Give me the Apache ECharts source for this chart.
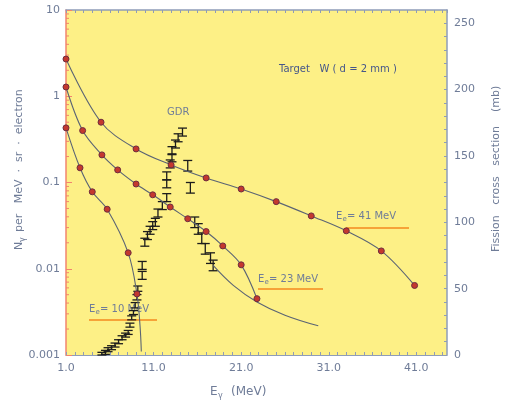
<!DOCTYPE html>
<html>
<head>
<meta charset="utf-8">
<script src="https://cdn.jsdelivr.net/npm/echarts@6/dist/echarts.min.js"></script>
<style>
html,body{margin:0;padding:0;background:#fff;}
#c{width:517px;height:406px;}
</style>
</head>
<body>
<div id="c"></div>
<script>
// ---- data ----
// Bremsstrahlung spectra, left log axis (N per MeV · sr · electron)
const e41 = [1, 5, 9, 13, 17, 21, 25, 29, 33, 37, 40.8];
const n41 = [2.7, 0.50, 0.245, 0.16, 0.113, 0.084, 0.060, 0.041, 0.0275, 0.0161, 0.0064];

const e23 = [1, 2.9, 5.1, 6.9, 9, 10.9, 12.9, 14.9, 17, 18.9, 21, 22.8];
const n23 = [1.28, 0.40, 0.209, 0.14, 0.096, 0.072, 0.052, 0.038, 0.027, 0.0184, 0.0111, 0.0045];

const e10 = [1, 2.6, 4, 5.7, 8.1, 9.1];
const n10 = [0.43, 0.148, 0.078, 0.049, 0.0153, 0.0051];
// curve continuation past last marker (no marker)
const e10tail = [9.45, 9.6];
const n10tail = [0.0022, 0.0011];

// GDR fission cross section data (right axis, mb) with error half-length
const gdrE   = [5.1, 5.5, 5.8, 6.2, 6.6, 7.0, 7.4, 7.8, 8.1, 8.3, 8.5, 8.7, 8.9, 9.1, 9.2, 9.7, 9.7, 10.0, 10.3, 10.6, 10.9, 11.2, 11.5, 12.0, 12.5, 12.5, 12.5, 12.9, 13.1, 13.1, 13.5, 13.8, 14.3, 14.9, 15.2, 15.7, 16.1, 16.5, 16.9, 17.5, 17.8];
const gdrSig = [0.5, 2, 4, 5.5, 7.5, 10, 13, 15, 17, 22.5, 28, 32, 37.5, 43.5, 50, 60, 67.5, 85, 90, 94, 97.5, 100, 107, 112.6, 118.6, 129, 135, 144, 148.6, 154, 159, 163.7, 168, 142.6, 126, 100, 95, 88, 80, 73, 67.5];
const gdrErr = [1.5, 1.5, 1.5, 1.5, 1.5, 1.5, 1.5, 1.5, 1.5, 1.5, 1.5, 1.5, 2, 2, 2, 3, 3, 3, 3, 3, 3, 3, 3, 3, 3, 3, 3, 3, 3, 3, 3, 3, 3, 4, 4, 4, 4, 4, 4, 4, 4];

// Lorentzian tail curve (right axis)
const tailE   = [17.8, 20.1, 22.8, 26, 29.8];
const tailSig = [67.5, 52.5, 40, 30, 22];

// tick labels
const xTickLabels = ['1.0', '11.0', '21.0', '31.0', '41.0'];
const leftTickLabels = ['0.001', '0.01', '0.1', '1', '10'];
const rightTickLabels = ['0', '50', '100', '150', '200', '250'];

// ---- styling ----
const TXT = '#6f7c98';
const AX = '#8e9cb8';
const RED_AX = '#f2846e';
const CURVE = '#5b6474';
const ORANGE = '#f6a338';
const YEL = '#fdf086';

const zip = (a, b) => a.map((v, i) => [v, b[i]]);

const chart = echarts.init(document.getElementById('c'), null, {renderer: 'canvas'});

const lineSeries = (es, ns, extra) => {
  const d = zip(es, ns);
  if (extra) extra.forEach(p => d.push({value: p, symbol: 'none'}));
  return {
    type: 'line', xAxisIndex: 0, yAxisIndex: 0, data: d, smooth: 0.35,
    symbol: 'circle', symbolSize: 6,
    lineStyle: {color: CURVE, width: 1.1},
    itemStyle: {color: '#c4382e', borderColor: '#6e2d3f', borderWidth: 1},
    z: 5, silent: true
  };
};

// log minor ticks positions (2..9 × decade)
const leftMinor = [];
[0.001, 0.01, 0.1, 1].forEach(d => { for (let k = 2; k <= 9; k++) leftMinor.push([1, d * k]); });

const xLabel = v => {
  const i = xTickLabels.findIndex(s => Math.abs(parseFloat(s) - v) < 1e-6);
  return i >= 0 ? xTickLabels[i] : '';
};

const option = {
  animation: false,
  backgroundColor: '#ffffff',
  grid: {left: 66, right: 70, top: 10, bottom: 51, show: true, backgroundColor: YEL, borderWidth: 0},
  xAxis: [
    {type: 'value', min: 1, max: 44.5, interval: 1, position: 'bottom',
     axisLine: {show: true, lineStyle: {color: AX, width: 1}},
     axisTick: {show: true, inside: true, length: 3, lineStyle: {color: AX}},
     axisLabel: {color: TXT, fontSize: 11, fontFamily: 'DejaVu Sans', margin: 8, formatter: xLabel, showMaxLabel: false},
     splitLine: {show: false}},
    {type: 'value', min: 1, max: 44.5, interval: 1, position: 'top',
     axisLine: {show: true, lineStyle: {color: AX, width: 1.5}},
     axisTick: {show: true, inside: true, length: 3, lineStyle: {color: AX}},
     axisLabel: {show: false}, splitLine: {show: false}}
  ],
  yAxis: [
    {type: 'log', logBase: 10, min: 0.001, max: 10, position: 'left',
     axisLine: {show: true, lineStyle: {color: RED_AX, width: 1.5}},
     axisTick: {show: true, inside: true, length: 6, lineStyle: {color: RED_AX}},
     axisLabel: {color: TXT, fontSize: 11, fontFamily: 'DejaVu Sans', margin: 6,
       formatter: v => { const i = Math.round(Math.log10(v)) + 3; return leftTickLabels[i] || ''; }},
     splitLine: {show: false}},
    {type: 'value', min: 0, max: 260, interval: 10, position: 'right',
     axisLine: {show: true, lineStyle: {color: AX, width: 1.5}},
     axisTick: {show: true, inside: true, length: 3, lineStyle: {color: AX}},
     axisLabel: {color: TXT, fontSize: 11, fontFamily: 'DejaVu Sans', margin: 7, showMaxLabel: false,
       formatter: v => (v % 50 === 0 && rightTickLabels.indexOf(String(v)) >= 0) ? String(v) : ''},
     splitLine: {show: false}}
  ],
  series: [
    // left log minor ticks
    {type: 'custom', xAxisIndex: 0, yAxisIndex: 0, data: leftMinor, silent: true, z: 3, clip: false,
     renderItem: (p, api) => {
       const c = api.coord([api.value(0), api.value(1)]);
       return {type: 'line', shape: {x1: c[0], y1: c[1], x2: c[0] + 3, y2: c[1]}, style: {stroke: RED_AX, lineWidth: 1}};
     }},
    // GDR error bars
    {type: 'custom', xAxisIndex: 0, yAxisIndex: 1, silent: true, z: 4,
     data: gdrE.map((e, i) => [e, gdrSig[i], gdrErr[i]]),
     renderItem: (p, api) => {
       const x = api.value(0), y = api.value(1), er = api.value(2);
       const hi = api.coord([x, y + er]);
       const lo = api.coord([x, Math.max(0, y - er)]);
       const hw = 4.5;
       const st = {stroke: '#1c1c1c', lineWidth: 1.3};
       return {type: 'group', children: [
         {type: 'line', shape: {x1: hi[0], y1: hi[1], x2: lo[0], y2: lo[1]}, style: st},
         {type: 'line', shape: {x1: hi[0] - hw, y1: hi[1], x2: hi[0] + hw, y2: hi[1]}, style: st},
         {type: 'line', shape: {x1: lo[0] - hw, y1: lo[1], x2: lo[0] + hw, y2: lo[1]}, style: st}
       ]};
     }},
    // GDR tail curve
    {type: 'line', xAxisIndex: 0, yAxisIndex: 1, data: zip(tailE, tailSig), smooth: 0.4, symbol: 'none',
     lineStyle: {color: CURVE, width: 1.1}, z: 5, silent: true},
    lineSeries(e41, n41),
    lineSeries(e23, n23),
    lineSeries(e10, n10, zip(e10tail, n10tail))
  ],
  graphic: [
    // axis names
    {type: 'text', x: 210, y: 386, style: {text: 'E', fill: TXT, fontSize: 12, fontFamily: 'DejaVu Sans'}},
    {type: 'text', x: 218, y: 392, style: {text: 'γ', fill: TXT, fontSize: 8, fontFamily: 'DejaVu Sans'}},
    {type: 'text', x: 231, y: 386, style: {text: '(MeV)', fill: TXT, fontSize: 12, fontFamily: 'DejaVu Sans'}},
    {type: 'group', x: 14, y: 250, rotation: Math.PI / 2, children: [
      {type: 'text', x: 0, y: 0, style: {text: 'N', fill: TXT, fontSize: 11, fontFamily: 'DejaVu Sans'}},
      {type: 'text', x: 8, y: 5, style: {text: 'γ', fill: TXT, fontSize: 8, fontFamily: 'DejaVu Sans'}},
      {type: 'text', x: 18, y: 0, style: {text: 'per   MeV  ·  sr  ·  electron', fill: TXT, fontSize: 11, fontFamily: 'DejaVu Sans'}}
    ]},
    {type: 'group', x: 491, y: 252, rotation: Math.PI / 2, children: [
      {type: 'text', x: 0, y: 0, style: {text: 'Fission   cross   section    (mb)', fill: TXT, fontSize: 11, fontFamily: 'DejaVu Sans'}}
    ]},
    // annotations
    {type: 'text', x: 279, y: 64, style: {text: 'Target   W ( d = 2 mm )', fill: '#45568a', fontSize: 10, fontFamily: 'DejaVu Sans'}},
    {type: 'text', x: 167, y: 107, style: {text: 'GDR', fill: TXT, fontSize: 10, fontFamily: 'DejaVu Sans'}},
    // E0 labels
    {type: 'group', children: [
      {type: 'text', x: 89, y: 304, style: {text: 'E', fill: TXT, fontSize: 10, fontFamily: 'DejaVu Sans'}},
      {type: 'text', x: 95.5, y: 309, style: {text: 'e', fill: TXT, fontSize: 7, fontFamily: 'DejaVu Sans'}},
      {type: 'text', x: 100, y: 304, style: {text: '= 10 MeV', fill: TXT, fontSize: 10, fontFamily: 'DejaVu Sans'}},
      {type: 'line', shape: {x1: 89, y1: 320, x2: 157, y2: 320}, style: {stroke: ORANGE, lineWidth: 2}}
    ]},
    {type: 'group', children: [
      {type: 'text', x: 258, y: 274, style: {text: 'E', fill: TXT, fontSize: 10, fontFamily: 'DejaVu Sans'}},
      {type: 'text', x: 264.5, y: 279, style: {text: 'e', fill: TXT, fontSize: 7, fontFamily: 'DejaVu Sans'}},
      {type: 'text', x: 269, y: 274, style: {text: '= 23 MeV', fill: TXT, fontSize: 10, fontFamily: 'DejaVu Sans'}},
      {type: 'line', shape: {x1: 258, y1: 289, x2: 323, y2: 289}, style: {stroke: ORANGE, lineWidth: 2}}
    ]},
    {type: 'group', children: [
      {type: 'text', x: 336, y: 211, style: {text: 'E', fill: TXT, fontSize: 10, fontFamily: 'DejaVu Sans'}},
      {type: 'text', x: 342.5, y: 216, style: {text: 'e', fill: TXT, fontSize: 7, fontFamily: 'DejaVu Sans'}},
      {type: 'text', x: 347, y: 211, style: {text: '= 41 MeV', fill: TXT, fontSize: 10, fontFamily: 'DejaVu Sans'}},
      {type: 'line', shape: {x1: 346, y1: 228, x2: 409, y2: 228}, style: {stroke: ORANGE, lineWidth: 2}}
    ]}
  ]
};
chart.setOption(option);
</script>
</body>
</html>
